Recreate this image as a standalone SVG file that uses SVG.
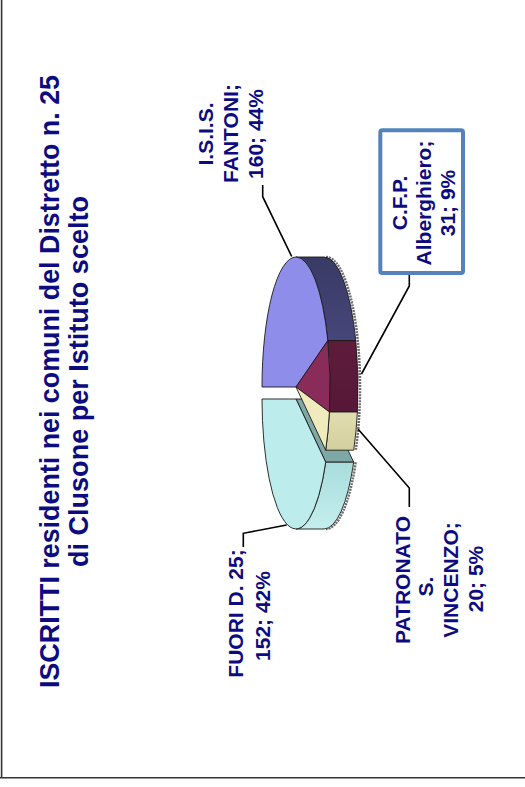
<svg xmlns="http://www.w3.org/2000/svg" width="525" height="787" viewBox="0 0 525 787">
<style>
.t{font-family:"Liberation Sans",Arial,sans-serif;font-weight:bold;fill:#0c0c80}
.title{font-size:27px}
.lbl{font-size:21px}
.edge{stroke:#1a1a1a;stroke-width:0.9;stroke-linejoin:round}
.lead{fill:none;stroke:#000;stroke-width:1.6}
.shadow{fill:none;stroke:#6e6e6e;stroke-width:2.5;stroke-dasharray:2 1}
</style>
<defs>
<linearGradient id="gBlue" x1="0" y1="0" x2="0" y2="1"><stop offset="0" stop-color="#3a3a66"/><stop offset="1" stop-color="#46467a"/></linearGradient>
<linearGradient id="gMaroon" x1="0" y1="0" x2="0" y2="1"><stop offset="0" stop-color="#5e1c3c"/><stop offset="1" stop-color="#561836"/></linearGradient>
<linearGradient id="gYellow" x1="0" y1="0" x2="0" y2="1"><stop offset="0" stop-color="#e2ddb0"/><stop offset="1" stop-color="#d4cf9f"/></linearGradient>
<linearGradient id="gCyan" x1="0" y1="0" x2="0" y2="1"><stop offset="0" stop-color="#a9dcdc"/><stop offset="1" stop-color="#c4eeee"/></linearGradient>
</defs>
<rect width="525" height="787" fill="#ffffff"/>
<g id="frame" fill="none" stroke="#333" stroke-width="1.6">
<line x1="1.6" y1="0" x2="1.6" y2="778"/>
<line x1="0" y1="777.8" x2="525" y2="777.8"/>
</g>
<g id="title">
<text class="t title" transform="translate(59,381.5) rotate(-90)" text-anchor="middle" textLength="613" lengthAdjust="spacingAndGlyphs">ISCRITTI residenti nei comuni del Distretto n. 25</text>
<text class="t title" transform="translate(88,381.5) rotate(-90)" text-anchor="middle" textLength="371" lengthAdjust="spacingAndGlyphs">di Clusone per Istituto scelto</text>
</g>
<g id="pie">
<path class="shadow" d="M326,257 A34,130 0 0,1 359.4,412 A34,130 0 0,1 355.7,450.2"/>
<path class="shadow" d="M355.7,462.2 A34,130 0 0,1 326,529"/>
<g id="slice-fuori">
<path class="edge" fill="#7ea8a6" d="M296,399 L325.7,462.2 L353.7,462.2 L324,399 Z"/>
<path class="edge" fill="url(#gCyan)" d="M325.7,462.2 L353.7,462.2 A34,130 0 0,1 324,529 L296,529 A34,130 0 0,0 325.7,462.2 Z"/>
<path class="edge" fill="#bdeced" d="M296,399 L325.7,462.2 A34,130 0 0,1 262,399 Z"/>
</g>
<g id="slice-isis">
<path class="edge" fill="url(#gBlue)" d="M296,257 L324,257 A34,130 0 0,1 355.8,340.6 L327.8,340.6 A34,130 0 0,0 296,257 Z"/>
<path class="edge" fill="#8e8eea" d="M296,387 L262,387 A34,130 0 0,1 296,257 A34,130 0 0,1 327.8,340.6 Z"/>
</g>
<g id="slice-cfp">
<path class="edge" fill="url(#gMaroon)" d="M327.8,340.6 L355.8,340.6 A34,130 0 0,1 357.4,412 L329.4,412 A34,130 0 0,0 327.8,340.6 Z"/>
<path class="edge" fill="#8a2c5a" d="M296,387 L327.8,340.6 A34,130 0 0,1 329.4,412 Z"/>
</g>
<g id="slice-patronato">
<path class="edge" fill="url(#gYellow)" d="M329.4,412 L357.4,412 A34,130 0 0,1 353.7,450.2 L325.7,450.2 A34,130 0 0,0 329.4,412 Z"/>
<path class="edge" fill="#efebbd" d="M296,387 L329.4,412 A34,130 0 0,1 325.7,450.2 Z"/>
</g>
</g>
<g id="connectors">
<polyline class="lead" points="262.7,185 262.7,196.7 291.7,256.5"/>
<polyline class="lead" points="409.3,275 409.3,286 361.5,374"/>
<polyline class="lead" points="358,429 409.3,488 409.3,507"/>
<polyline class="lead" points="243.3,547 243.3,533.3 286.7,525"/>
</g>
<g id="node-isis">
<text class="t lbl" transform="translate(213.3,134) rotate(-90)" text-anchor="middle">I.S.I.S.</text>
<text class="t lbl" transform="translate(238.3,133.5) rotate(-90)" text-anchor="middle">FANTONI;</text>
<text class="t lbl" transform="translate(263.3,134) rotate(-90)" text-anchor="middle">160; 44%</text>
</g>
<g id="node-cfp">
<rect x="380.3" y="130.3" width="82.7" height="142.7" rx="2" fill="#ffffff" stroke="#5382bd" stroke-width="4"/>
<text class="t lbl" transform="translate(406.7,203) rotate(-90)" text-anchor="middle">C.F.P.</text>
<text class="t lbl" transform="translate(431,203) rotate(-90)" text-anchor="middle">Alberghiero;</text>
<text class="t lbl" transform="translate(455.3,203) rotate(-90)" text-anchor="middle">31; 9%</text>
</g>
<g id="node-patronato">
<text class="t lbl" transform="translate(410,580) rotate(-90)" text-anchor="middle">PATRONATO</text>
<text class="t lbl" transform="translate(433.3,586.7) rotate(-90)" text-anchor="middle">S.</text>
<text class="t lbl" transform="translate(458.3,580) rotate(-90)" text-anchor="middle">VINCENZO;</text>
<text class="t lbl" transform="translate(483.3,579) rotate(-90)" text-anchor="middle">20; 5%</text>
</g>
<g id="node-fuori">
<text class="t lbl" transform="translate(243.3,613.5) rotate(-90)" text-anchor="middle">FUORI D. 25;</text>
<text class="t lbl" transform="translate(270,616) rotate(-90)" text-anchor="middle">152; 42%</text>
</g>
</svg>
